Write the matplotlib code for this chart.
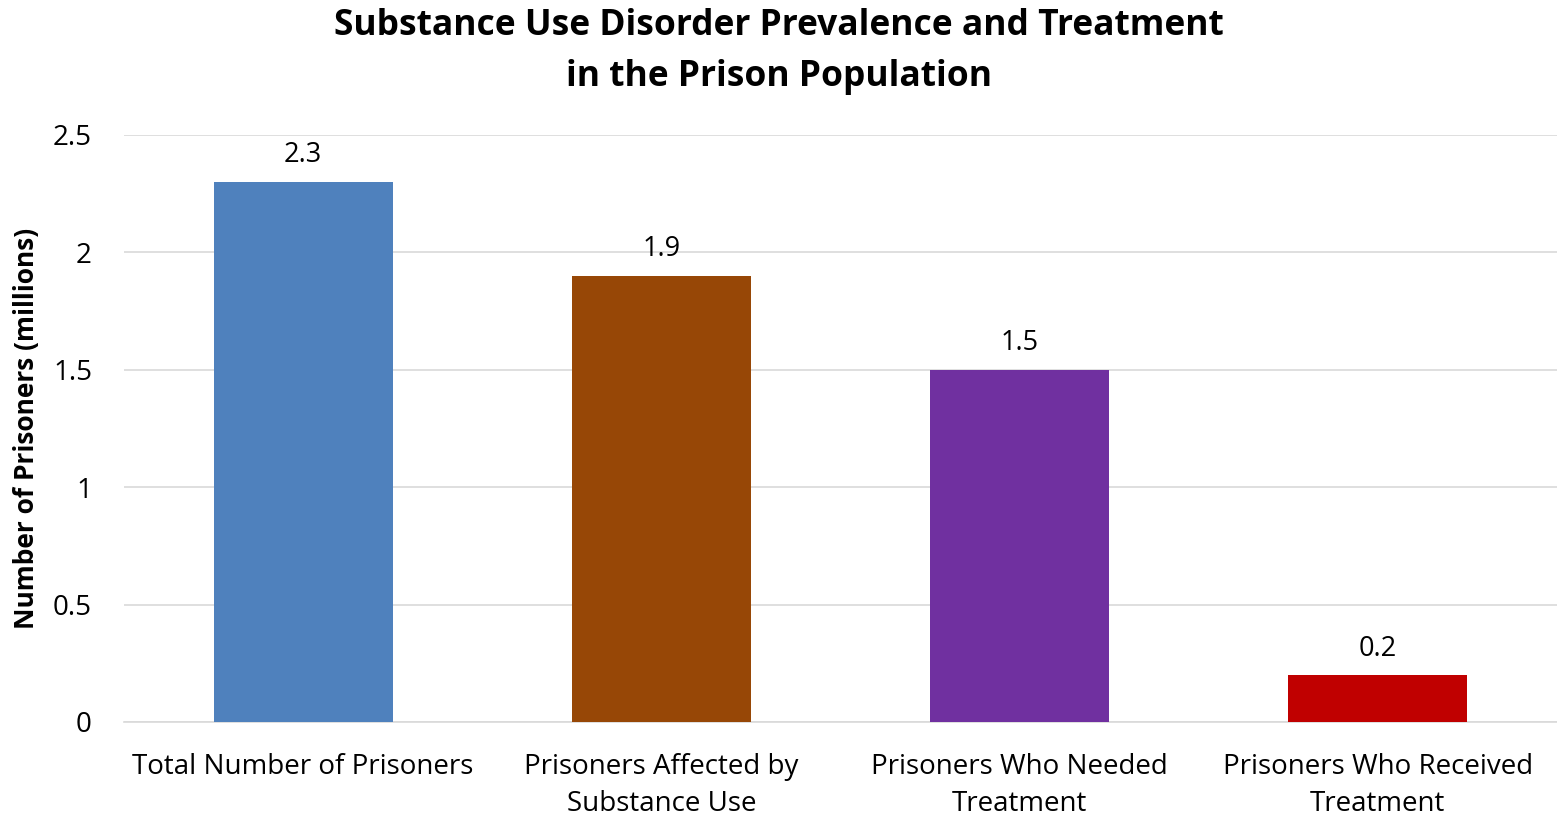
import matplotlib.pyplot as plt
import numpy as np

categorias = [
    "Total Number of Prisoners",
    "Prisoners Affected by\nSubstance Use",
    "Prisoners Who Needed\nTreatment",
    "Prisoners Who Received\nTreatment",
]
valores = [2.3, 1.9, 1.5, 0.2]
cores = ["#4F81BD", "#974706", "#7030A0", "#C00000"]
ticks_y = [0, 0.5, 1, 1.5, 2, 2.5]
rotulos_y = ["0", "0.5", "1", "1.5", "2", "2.5"]

plt.rcParams["font.family"] = ["Open Sans", "DejaVu Sans"]

fig = plt.figure(figsize=(15.57, 8.16), dpi=100)
ax = fig.add_axes([0.0796, 0.1152, 0.9204, 0.7194])

posicoes = np.arange(len(categorias))
barras = ax.bar(posicoes, valores, width=0.5, color=cores, zorder=3)

for barra, valor in zip(barras, valores):
    ax.annotate(f"{valor}", (barra.get_x() + barra.get_width() / 2, valor),
                xytext=(0, 9), textcoords="offset points",
                ha="center", va="bottom", fontsize=19.5)

ax.set_xlim(-0.5, 3.5)
ax.set_ylim(0, 2.5)
ax.set_yticks(ticks_y)
ax.set_yticklabels(rotulos_y, fontsize=20)
ax.set_xticks(posicoes)
ax.set_xticklabels(categorias, fontsize=20, linespacing=1.45)
ax.tick_params(axis="x", length=0, pad=22)
ax.tick_params(axis="y", length=0, pad=23)

ax.grid(axis="y", color="#D9D9D9", linewidth=1.2, zorder=0)
for lado in ["top", "right", "left"]:
    ax.spines[lado].set_visible(False)
ax.spines["bottom"].set_color("#D9D9D9")
ax.spines["bottom"].set_linewidth(1.2)

ax.set_ylabel("Number of Prisoners (millions)", fontsize=19, fontweight="bold")
ax.yaxis.set_label_coords(-0.0586, 0.5)

fig.suptitle("Substance Use Disorder Prevalence and Treatment\nin the Prison Population",
             fontsize=25.5, fontweight="bold", y=0.99, linespacing=1.55)

fig.savefig("out.png", dpi=100)
